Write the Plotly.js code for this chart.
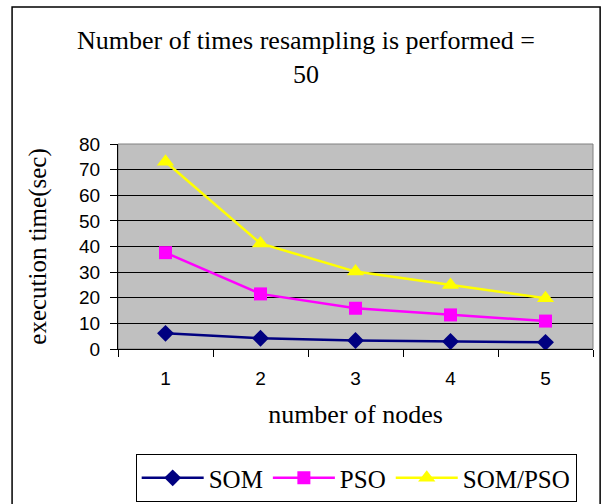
<!DOCTYPE html>
<html>
<head>
<meta charset="utf-8">
<script src="https://cdn.plot.ly/plotly-3.0.1.min.js"></script>
<style>html,body{margin:0;padding:0;background:#fff;}#chart{width:612px;height:504px;}</style>
</head>
<body>
<div id="chart"></div>
<script>
const nodes = ['1', '2', '3', '4', '5'];
const som = [6.1, 4.2, 3.3, 2.9, 2.6];
const pso = [37.6, 21.5, 15.9, 13.3, 10.9];
const somPso = [73.1, 41.2, 30.2, 25.0, 19.8];
const yTicks = [0, 10, 20, 30, 40, 50, 60, 70, 80];

const serif = 'Liberation Serif';
const sans = 'Liberation Sans';

const traces = [
  {x: nodes, y: som, name: 'SOM', type: 'scatter', mode: 'lines+markers',
   line: {color: '#000080', width: 2.5}, marker: {symbol: 'diamond', size: 13, color: '#000080'}},
  {x: nodes, y: pso, name: 'PSO', type: 'scatter', mode: 'lines+markers',
   line: {color: '#FF00FF', width: 2.5}, marker: {symbol: 'square', size: 13, color: '#FF00FF'}},
  {x: nodes, y: somPso, name: 'SOM/PSO', type: 'scatter', mode: 'lines+markers',
   line: {color: '#FFFF00', width: 2.5}, marker: {symbol: 'triangle-up', size: 15, color: '#FFFF00'}}
];

const layout = {
  width: 612, height: 504,
  margin: {l: 118, r: 19, t: 144, b: 155, autoexpand: false},
  paper_bgcolor: '#ffffff',
  plot_bgcolor: '#C0C0C0',
  showlegend: true,
  title: {
    text: 'Number of times resampling is performed =<br>50',
    font: {family: serif, size: 26, color: '#000'},
    x: 0.5, xref: 'container', xanchor: 'center',
    y: 0.903, yref: 'container', yanchor: 'top'
  },
  xaxis: {
    type: 'category',
    range: [-0.5, 4.5],
    tickson: 'boundaries',
    ticks: 'outside', ticklen: 7, tickcolor: '#000', tickwidth: 1,
    ticklabelstandoff: 12,
    showgrid: false,
    showline: true, linecolor: '#000', linewidth: 1,
    tickfont: {family: sans, size: 19, color: '#000'},
    title: {text: 'number of nodes', font: {family: serif, size: 26, color: '#000'}, standoff: 17},
    fixedrange: true
  },
  yaxis: {
    range: [0, 80],
    tickvals: yTicks,
    ticks: 'outside', ticklen: 7, tickcolor: '#000', tickwidth: 1,
    ticklabelstandoff: 6,
    showgrid: true, gridcolor: '#000', gridwidth: 1,
    showline: true, linecolor: '#000', linewidth: 1,
    zeroline: false,
    tickfont: {family: sans, size: 19, color: '#000'},
    title: {text: 'execution time(sec)', font: {family: serif, size: 25, color: '#000'}, standoff: 25},
    fixedrange: true
  },
  legend: {
    orientation: 'h',
    x: 0.582, xref: 'container', xanchor: 'center',
    y: 0.099, yref: 'container', yanchor: 'top',
    bordercolor: '#000', borderwidth: 1,
    bgcolor: '#fff',
    font: {family: serif, size: 25, color: '#000'},
    itemwidth: 62,
    tracegroupgap: 0
  },
  shapes: [
    {type: 'rect', xref: 'paper', yref: 'paper', x0: 0, x1: 1, y0: 0, y1: 1,
     line: {color: '#808080', width: 1}, layer: 'below'},
    {type: 'rect', xref: 'paper', yref: 'paper', x0: -0.223, x1: 1.015, y0: -0.9, y1: 1.668,
     line: {color: '#000', width: 1.5}, fillcolor: 'rgba(0,0,0,0)'}
  ]
};

Plotly.newPlot('chart', traces, layout, {displayModeBar: false, staticPlot: true});
</script>
</body>
</html>
